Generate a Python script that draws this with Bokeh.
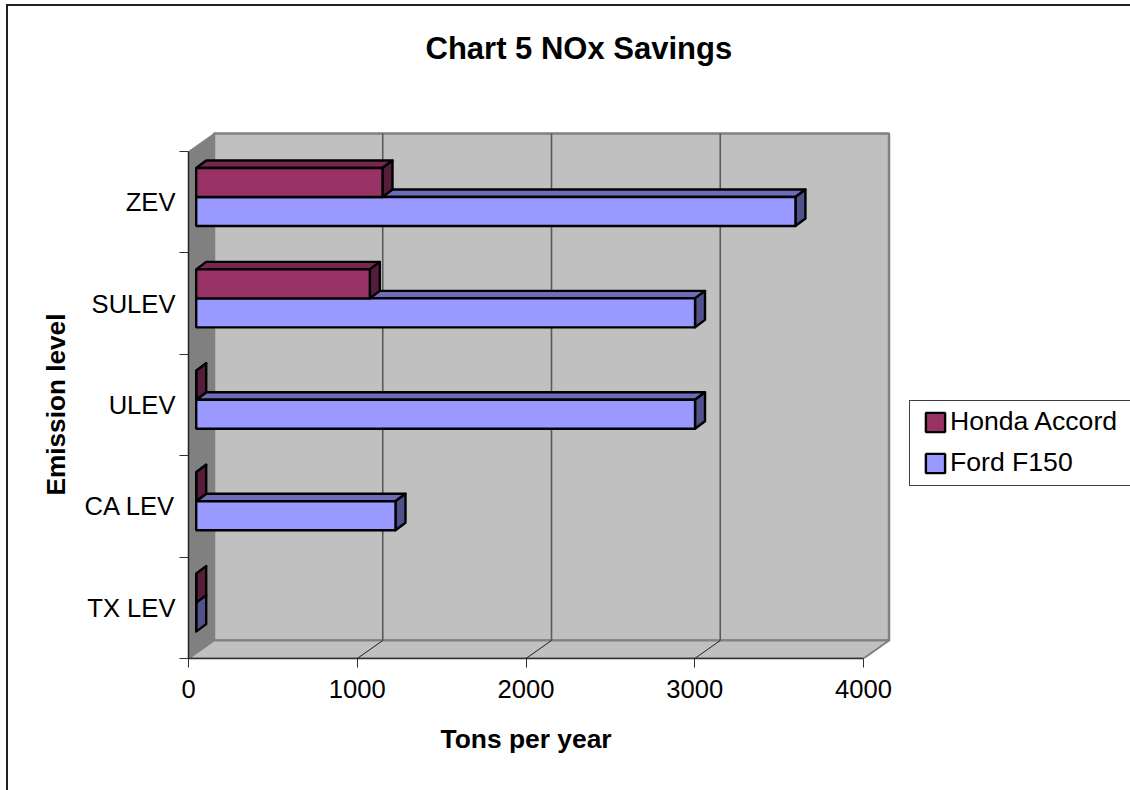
from bokeh.embed import file_html
from bokeh.resources import INLINE
from bokeh.plotting import figure
from bokeh.models import FixedTicker, InlineStyleSheet, Legend, LegendItem, Range1d, Title

# Emission levels from the bottom of the chart upward
categories = ["TX LEV", "CA LEV", "ULEV", "SULEV", "ZEV"]
honda_accord = [0, 0, 0, 1029, 1104]
ford_f150 = [0, 1181, 2956, 2956, 3551]
value_ticks = [0, 1000, 2000, 3000, 4000]

FONT = "Liberation Sans"
TEXT_SIZE = "25.6px"

# Pixel scale of the two axes
PX_PER_TON = 0.16875
PX_PER_CATEGORY = 101.4
MAX_VALUE = value_ticks[-1]
N = len(categories)

# Box depth: how far the back wall sits from the front edges
WALL_DX = 25.5 / PX_PER_TON
WALL_DY = 18 / PX_PER_CATEGORY

# Bar geometry in axis units
BAR_X0 = 7.7 / PX_PER_TON
BAR_H = 29 / PX_PER_CATEGORY
BAR_LIFT = 5.2 / PX_PER_CATEGORY
BAR_DX = 10 / PX_PER_TON
BAR_DY = 7.5 / PX_PER_CATEGORY

WIDTH, HEIGHT = 1130, 790
LEFT, TOP, RIGHT, BOTTOM = 188, 130, 239, 132
frame_w = WIDTH - LEFT - RIGHT
frame_h = HEIGHT - TOP - BOTTOM

# Chart border open towards the page edges, and the frame round the legend
page_css = InlineStyleSheet(css="""
:host::after {
  content: ""; position: absolute; left: 6px; top: 4px;
  width: 1124px; height: 786px; box-sizing: border-box;
  border-left: 2px solid #202020; border-top: 2px solid #202020;
  pointer-events: none; z-index: 5;
}
:host::before {
  content: ""; position: absolute; left: 909px; top: 400px;
  width: 221px; height: 86px; box-sizing: border-box;
  border: 1px solid #404040; border-right: none;
  pointer-events: none; z-index: 5;
}
""")

p = figure(
    width=WIDTH, height=HEIGHT, frame_width=frame_w, frame_height=frame_h,
    output_backend="svg", toolbar_location=None,
    x_range=Range1d(0, frame_w / PX_PER_TON),
    y_range=Range1d(0, frame_h / PX_PER_CATEGORY),
    min_border_left=LEFT, min_border_right=RIGHT,
    min_border_top=TOP, min_border_bottom=BOTTOM,
    background_fill_color="white", border_fill_color="white",
    outline_line_color=None,
    stylesheets=[page_css],
)
p.grid.visible = False

WALL_EDGE = "#808080"
WALL_FILL = "#C0C0C0"

# Side wall, back wall and floor of the box
p.patch([0, WALL_DX, WALL_DX, 0], [0, WALL_DY, N + WALL_DY, N],
        fill_color=WALL_EDGE, line_color=WALL_EDGE, line_width=1)
p.patch([WALL_DX, MAX_VALUE + WALL_DX, MAX_VALUE + WALL_DX, WALL_DX],
        [WALL_DY, WALL_DY, N + WALL_DY, N + WALL_DY],
        fill_color=WALL_FILL, line_color=WALL_EDGE, line_width=2.5)
p.patch([0, MAX_VALUE, MAX_VALUE + WALL_DX, WALL_DX], [0, 0, WALL_DY, WALL_DY],
        fill_color=WALL_FILL, line_color=WALL_EDGE, line_width=2)

# Gridlines on the back wall, with their short traces across the floor
inner = value_ticks[1:-1]
p.segment([v + WALL_DX for v in inner], WALL_DY, [v + WALL_DX for v in inner], N + WALL_DY,
          line_color="#5A5A5A", line_width=1.6)
p.segment(inner, 0, [v + WALL_DX for v in inner], WALL_DY, line_color="#202020", line_width=1)


def draw_series(values, slot, front, top_face, side_face):
    """Draw one series; slot 0 sits below the band centre, slot 1 above it."""
    lefts, rights, lows, highs = [], [], [], []
    top_x, top_y, side_x, side_y = [], [], [], []
    for i, v in enumerate(values):
        low = i + 0.5 + BAR_LIFT + (slot - 1) * BAR_H
        high = low + BAR_H
        x0 = BAR_X0
        x1 = BAR_X0 + v
        lefts.append(x0)
        rights.append(x1)
        lows.append(low)
        highs.append(high)
        top_x.append([x0, x1, x1 + BAR_DX, x0 + BAR_DX])
        top_y.append([high, high, high + BAR_DY, high + BAR_DY])
        side_x.append([x1, x1 + BAR_DX, x1 + BAR_DX, x1])
        side_y.append([low, low + BAR_DY, high + BAR_DY, high])
    p.patches(top_x, top_y, fill_color=top_face, line_color="black", line_width=2.4,
              line_join="round")
    p.patches(side_x, side_y, fill_color=side_face, line_color="black", line_width=2.4,
              line_join="round")
    return p.quad(left=lefts, right=rights, bottom=lows, top=highs, fill_color=front,
                  line_color="black", line_width=2.4)


ford_bars = draw_series(ford_f150, 0, "#9999FF", "#6C6CB8", "#50508A")
honda_bars = draw_series(honda_accord, 1, "#993366", "#772850", "#561D3A")

# Value axis
xaxis = p.xaxis[0]
xaxis.ticker = FixedTicker(ticks=value_ticks)
xaxis.bounds = (0, MAX_VALUE)
xaxis.axis_line_color = "#303030"
xaxis.axis_line_width = 1.5
xaxis.major_tick_in = 0
xaxis.major_tick_out = 9
xaxis.major_tick_line_color = "#303030"
xaxis.minor_tick_line_color = None
xaxis.major_label_text_font = FONT
xaxis.major_label_text_font_size = TEXT_SIZE
xaxis.major_label_text_color = "black"
xaxis.major_label_standoff = 12

# Category axis: labels at band centres, ticks on band boundaries
yaxis = p.yaxis[0]
centres = [i + 0.5 for i in range(N)]
yaxis.ticker = FixedTicker(ticks=centres, minor_ticks=list(range(N + 1)))
yaxis.major_label_overrides = {c: name for c, name in zip(centres, categories)}
yaxis.bounds = (0, N)
yaxis.axis_line_color = "#202020"
yaxis.axis_line_width = 1.5
yaxis.major_tick_line_color = None
yaxis.major_tick_in = 0
yaxis.major_tick_out = 0
yaxis.minor_tick_in = 0
yaxis.minor_tick_out = 9
yaxis.minor_tick_line_color = "#303030"
yaxis.major_label_text_font = FONT
yaxis.major_label_text_font_size = TEXT_SIZE
yaxis.major_label_text_color = "black"
yaxis.major_label_standoff = 4

legend = Legend(
    items=[LegendItem(label="Honda Accord", renderers=[honda_bars]),
           LegendItem(label="Ford F150", renderers=[ford_bars])],
    location=(32, 180),
    orientation="vertical",
    glyph_width=24, glyph_height=24,
    label_text_font=FONT, label_text_font_size="26.6px", label_text_color="black",
    label_standoff=3, label_height=25, label_width=175,
    spacing=10, padding=0, margin=0,
    border_line_color=None, background_fill_color=None,
)
p.add_layout(legend, "right")


def title_text(text, size, offset, standoff):
    return Title(text=text, align="left", offset=offset, standoff=standoff,
                 vertical_align="top", text_font=FONT, text_font_size=size,
                 text_font_style="bold", text_color="black")


# Blank title: holds the heading clear of the plot box
p.add_layout(Title(text=" ", text_font_size="40px", standoff=17), "above")
p.add_layout(title_text("Chart 5 NOx Savings", "31px", 237, 0), "above")
p.add_layout(title_text("Tons per year", "26.4px", 252, 46), "below")
p.add_layout(title_text("Emission level", "26.2px", 163, 17), "left")

open("out.html", "w").write(file_html(p, INLINE))
